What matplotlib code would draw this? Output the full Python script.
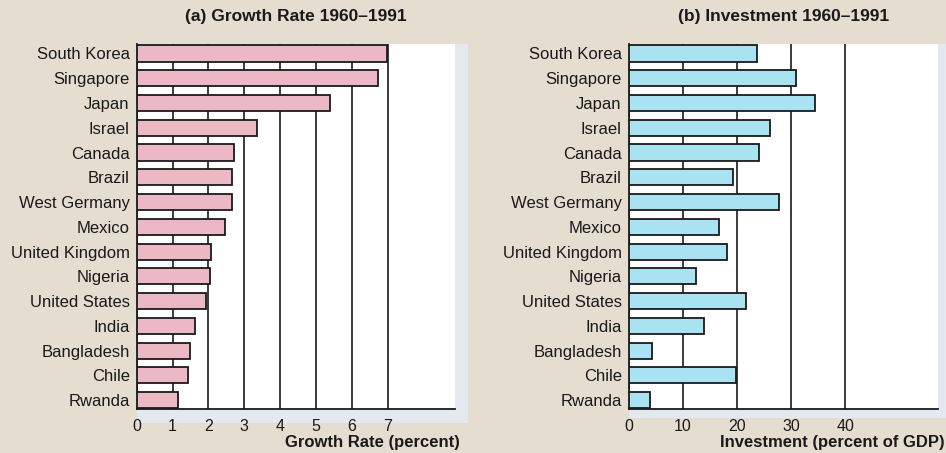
import numpy as np
import matplotlib.pyplot as plt
from matplotlib.patches import Rectangle

plt.rcParams['font.family'] = ['Liberation Sans', 'DejaVu Sans']

# Countries (top to bottom)
countries = ['South Korea', 'Singapore', 'Japan', 'Israel', 'Canada', 'Brazil',
             'West Germany', 'Mexico', 'United Kingdom', 'Nigeria', 'United States',
             'India', 'Bangladesh', 'Chile', 'Rwanda']

# (a) growth rate, percent
growth = [6.97, 6.74, 5.39, 3.36, 2.71, 2.66, 2.66, 2.47, 2.08, 2.04, 1.92, 1.62, 1.49, 1.44, 1.14]
growth_ticks = [0, 1, 2, 3, 4, 5, 6, 7]

# (b) investment, percent of GDP
invest = [23.8, 31.0, 34.5, 26.2, 24.1, 19.3, 27.8, 16.6, 18.1, 12.4, 21.6, 13.9, 4.3, 19.8, 4.0]
invest_ticks = [0, 10, 20, 30, 40]

bg = '#e4ddd0'
shade = '#e4e8ef'
pink = '#ecb8c5'
cyan = '#a9e2f0'

W, H = 946, 453
fig = plt.figure(figsize=(W/100, H/100), dpi=100, facecolor=bg)

def panel(x0, x1, y0, y1, sx1, sy1, values, ticks, xmax, color, title, xlabel, lab_right):
    # white plot area in pixel coords -> figure fractions
    ax = fig.add_axes([x0/W, 1 - y1/H, (x1-x0)/W, (y1-y0)/H])
    # light drop frame behind the plot area
    fig.add_artist(Rectangle((x0/W, 1 - sy1/H), (sx1-x0)/W, (sy1-y0)/H,
                             transform=fig.transFigure, facecolor=shade,
                             edgecolor='none', zorder=-1))
    y = np.arange(len(countries))
    ax.barh(y, values, height=0.65, color=color, edgecolor='#1a1a1a', linewidth=1.3, zorder=3)
    ax.set_xlim(0, xmax)
    ax.set_ylim(len(countries) - 1 + 0.37, -0.37)
    ax.set_xticks(ticks)
    ax.set_xticklabels([str(t) for t in ticks], fontsize=11.5)
    ax.set_yticks(y)
    ax.set_yticklabels(countries, fontsize=12)
    ax.tick_params(axis='both', length=0, colors='#1a1a1a')
    ax.tick_params(axis='x', pad=7)
    ax.tick_params(axis='y', pad=5)
    ax.grid(axis='x', color='#1a1a1a', linewidth=1.2, zorder=1)
    ax.grid(axis='y', visible=False)
    ax.set_axisbelow(True)
    for s in ['top', 'right']:
        ax.spines[s].set_visible(False)
    for s in ['left', 'bottom']:
        ax.spines[s].set_color('#1a1a1a')
        ax.spines[s].set_linewidth(1.3)
    fig.text((x0 + x1)/2/W, 1 - 16/H, title, ha='center', va='center',
             fontsize=12.5, fontweight='bold', color='#1a1a1a')
    fig.text(lab_right/W, 1 - 442.5/H, xlabel, ha='right', va='center',
             fontsize=12, fontweight='bold', color='#1a1a1a')
    return ax

panel(136.7, 455, 44.3, 409.3, 468, 422.5, growth, growth_ticks, 8.88, pink,
      '(a) Growth Rate 1960\u20131991', 'Growth Rate (percent)', 460)
panel(628.7, 937.7, 44.3, 409.3, 950, 418, invest, invest_ticks, 57.1, cyan,
      '(b) Investment 1960\u20131991', 'Investment (percent of GDP)', 945)

fig.savefig('out.png', dpi=100, facecolor=bg)
